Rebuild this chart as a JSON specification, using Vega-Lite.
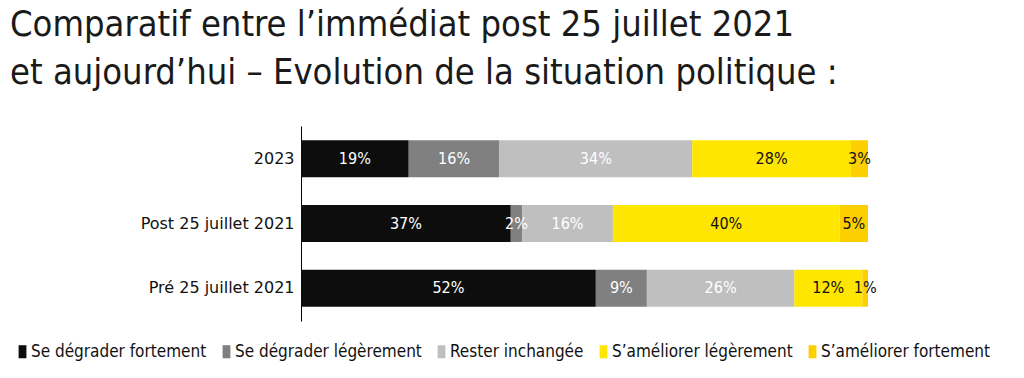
{
  "$schema": "https://vega.github.io/schema/vega-lite/v6.json",
  "autosize": {"type": "none"},
  "width": 567,
  "height": 195,
  "padding": {"left": 301, "top": 126, "right": 156, "bottom": 57},
  "background": "white",
  "title": {
    "text": ["Comparatif entre l’immédiat post 25 juillet 2021", "et aujourd’hui – Evolution de la situation politique :"],
    "anchor": "start",
    "frame": "group",
    "dx": -291,
    "offset": 34,
    "font": "DejaVu Sans Condensed",
    "fontSize": 36,
    "fontWeight": "normal",
    "color": "#1a1a1a",
    "lineHeight": 48
  },
  "data": {
    "values": [
      {"cat": "2023", "resp": "Se dégrader fortement", "order": 1, "value": 19, "label": "19%"},
      {"cat": "2023", "resp": "Se dégrader légèrement", "order": 2, "value": 16, "label": "16%"},
      {"cat": "2023", "resp": "Rester inchangée", "order": 3, "value": 34, "label": "34%"},
      {"cat": "2023", "resp": "S’améliorer légèrement", "order": 4, "value": 28, "label": "28%"},
      {"cat": "2023", "resp": "S’améliorer fortement", "order": 5, "value": 3, "label": "3%"},
      {"cat": "Post 25 juillet 2021", "resp": "Se dégrader fortement", "order": 1, "value": 37, "label": "37%"},
      {"cat": "Post 25 juillet 2021", "resp": "Se dégrader légèrement", "order": 2, "value": 2, "label": "2%"},
      {"cat": "Post 25 juillet 2021", "resp": "Rester inchangée", "order": 3, "value": 16, "label": "16%"},
      {"cat": "Post 25 juillet 2021", "resp": "S’améliorer légèrement", "order": 4, "value": 40, "label": "40%"},
      {"cat": "Post 25 juillet 2021", "resp": "S’améliorer fortement", "order": 5, "value": 5, "label": "5%"},
      {"cat": "Pré 25 juillet 2021", "resp": "Se dégrader fortement", "order": 1, "value": 52, "label": "52%"},
      {"cat": "Pré 25 juillet 2021", "resp": "Se dégrader légèrement", "order": 2, "value": 9, "label": "9%"},
      {"cat": "Pré 25 juillet 2021", "resp": "Rester inchangée", "order": 3, "value": 26, "label": "26%"},
      {"cat": "Pré 25 juillet 2021", "resp": "S’améliorer légèrement", "order": 4, "value": 12, "label": "12%"},
      {"cat": "Pré 25 juillet 2021", "resp": "S’améliorer fortement", "order": 5, "value": 1, "label": "1%"}
    ]
  },
  "transform": [
    {"stack": "value", "groupby": ["cat"], "sort": [{"field": "order", "order": "ascending"}], "as": ["x0", "x1"]}
  ],
  "encoding": {
    "y": {
      "field": "cat",
      "type": "nominal",
      "sort": ["2023", "Post 25 juillet 2021", "Pré 25 juillet 2021"],
      "scale": {"paddingInner": 0.43, "paddingOuter": 0.22},
      "axis": {
        "title": null,
        "ticks": false,
        "domainColor": "#000000",
        "domainWidth": 1,
        "labelFont": "DejaVu Sans",
        "labelFontSize": 16,
        "labelColor": "#111111",
        "labelPadding": 7
      }
    }
  },
  "layer": [
    {
      "mark": {"type": "bar"},
      "encoding": {
        "x": {"field": "x0", "type": "quantitative", "scale": {"domain": [0, 100], "nice": false}, "axis": null},
        "x2": {"field": "x1"},
        "color": {
          "field": "resp",
          "type": "nominal",
          "sort": ["Se dégrader fortement", "Se dégrader légèrement", "Rester inchangée", "S’améliorer légèrement", "S’améliorer fortement"],
          "scale": {
            "domain": ["Se dégrader fortement", "Se dégrader légèrement", "Rester inchangée", "S’améliorer légèrement", "S’améliorer fortement"],
            "range": ["#0d0d0d", "#808080", "#bfbfbf", "#ffe600", "#fccf00"]
          },
          "legend": {
            "title": null,
            "orient": "none",
            "direction": "horizontal",
            "legendX": -287,
            "legendY": 217,
            "labelFont": "DejaVu Sans Condensed",
            "labelFontSize": 17,
            "labelLimit": 400,
            "labelColor": "#111111",
            "labelOffset": 0,
            "columnPadding": 11,
            "symbolType": "M-0.6,-1L0.6,-1L0.6,1L-0.6,1Z",
            "symbolSize": 170,
            "symbolStrokeWidth": 0,
            "symbolOpacity": 1
          }
        },
        "order": {"field": "order"}
      }
    },
    {
      "transform": [
        {"fold": ["x0", "x1"], "as": ["edge", "pos"]},
        {"aggregate": [{"op": "mean", "field": "pos", "as": "mid"}], "groupby": ["cat", "resp", "order", "label"]}
      ],
      "mark": {"type": "text", "font": "DejaVu Sans Condensed", "fontSize": 16, "align": "center", "baseline": "middle"},
      "encoding": {
        "x": {"field": "mid", "type": "quantitative"},
        "text": {"field": "label", "type": "nominal"},
        "color": {"condition": {"test": "datum.order >= 4", "value": "#111111"}, "value": "#ffffff"}
      }
    }
  ],
  "config": {"view": {"stroke": null}}
}
